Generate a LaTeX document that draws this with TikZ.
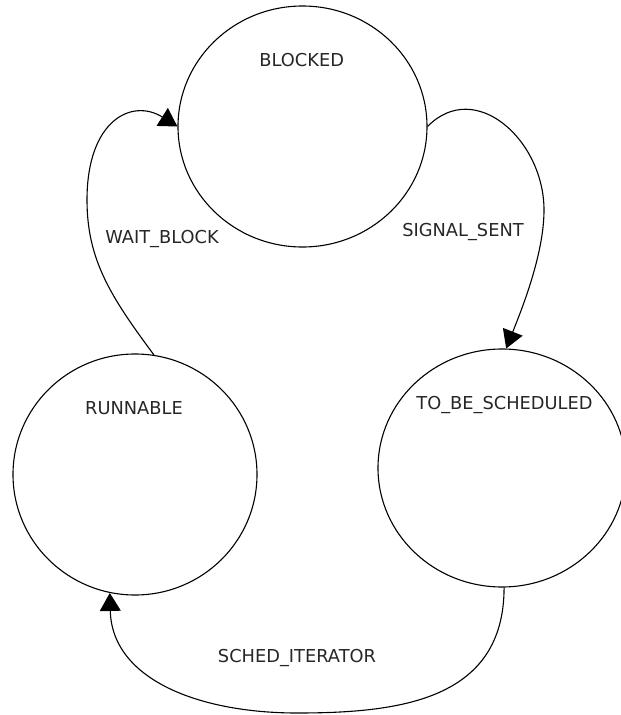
\documentclass[tikz,border=0pt]{standalone}
\usepackage{fontspec}
\setmainfont{DejaVu Sans}
\usetikzlibrary{shapes.geometric,arrows.meta}
\begin{document}
\begin{tikzpicture}[x=1pt,y=-1pt,
  state/.style={draw, ellipse, line width=1.1pt, inner sep=0pt},
  txt/.style={font=\fontsize{17.8}{21}\selectfont, text=black!85, inner sep=0pt, anchor=base},
  trans/.style={draw, line width=1.1pt, -{Triangle[length=18pt,width=21pt]}}]
\useasboundingbox (0,0) rectangle (621,715);

% states
\node[state, minimum width=249pt, minimum height=241pt] (blocked) at (302.5,126.5) {};
\node[state, minimum width=244pt, minimum height=241pt] (runnable) at (135,474.5) {};
\node[state, minimum width=248pt, minimum height=238pt] (tbs) at (502,468) {};

% state names
\node[txt] (blockedname) at (301.7,66.5) {BLOCKED};
\node[txt] (runnablename) at (134,414) {RUNNABLE};
\node[txt] (tbsname) at (504.5,409.5) {TO\_BE\_SCHEDULED};

% transitions
\draw[trans] (runnable.81) .. controls (111,297) and (87,260) .. (87,200)
  .. controls (87,120) and (132,98) .. (blocked.180);
\draw[trans] (blocked.0) .. controls (475,78) and (544,140) .. (544,210)
  .. controls (544,255) and (521,311) .. (tbs.88);
\draw[trans] (tbs.-89) .. controls (504,700) and (400,713) .. (297,713)
  .. controls (200,713) and (112,680) .. (runnable.258.6);

% transition labels
\node[txt] (waitlbl) at (162,243.3) {WAIT\_BLOCK};
\node[txt] (signallbl) at (463,236.7) {SIGNAL\_SENT};
\node[txt] (schedlbl) at (297,662.7) {SCHED\_ITERATOR};
\end{tikzpicture}
\end{document}
